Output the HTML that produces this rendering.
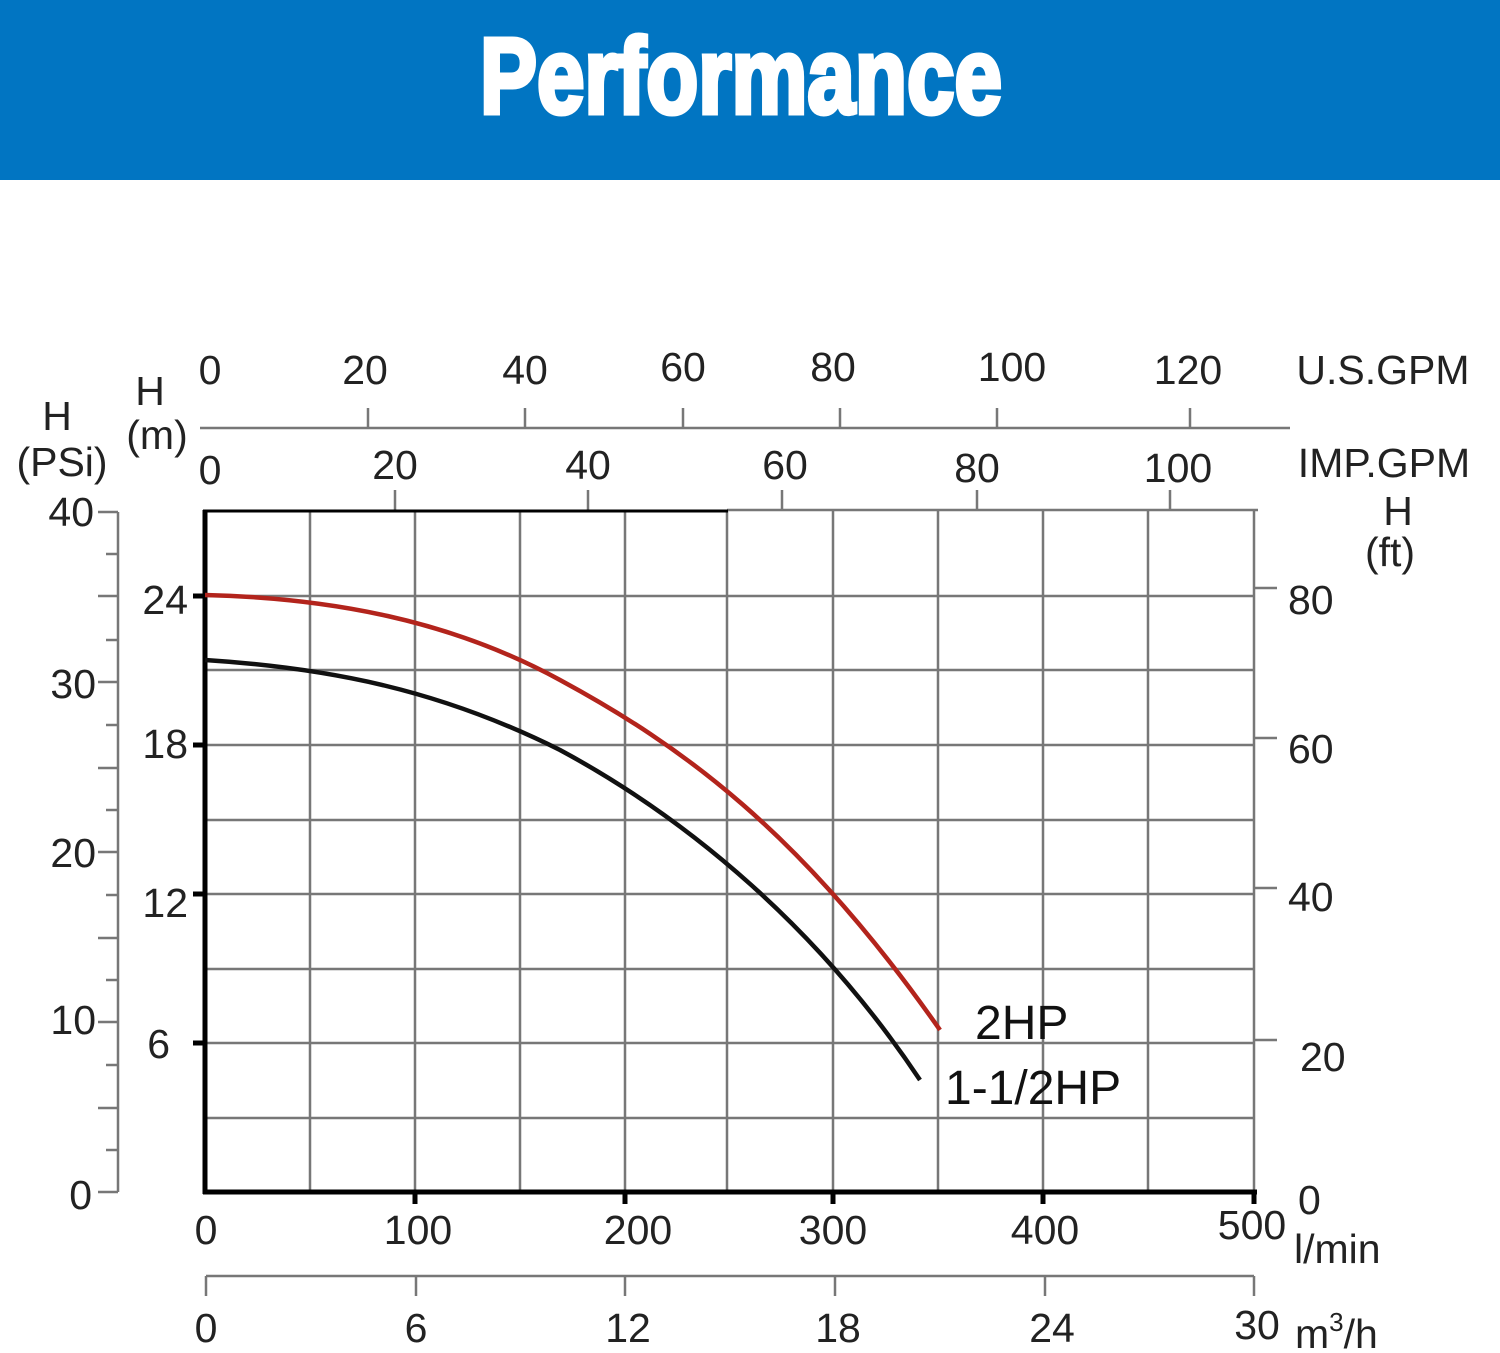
<!DOCTYPE html>
<html><head><meta charset="utf-8"><style>
html,body{margin:0;padding:0;background:#fff;}
svg{display:block;}
text{font-family:"Liberation Sans",sans-serif;fill:#222;}
</style></head><body>
<svg width="1500" height="1353" viewBox="0 0 1500 1353" xmlns="http://www.w3.org/2000/svg">
<rect x="0" y="0" width="1500" height="180" fill="#0175c2"/>
<text x="741" y="113" text-anchor="middle" font-size="108" font-weight="bold" style="font-family:'Liberation Sans Narrow','Liberation Sans',sans-serif;fill:#fff;stroke:#fff;stroke-width:5" textLength="522" lengthAdjust="spacingAndGlyphs">Performance</text>

<g stroke="#777" stroke-width="2.5" fill="none">
<line x1="310" y1="510" x2="310" y2="1192"/><line x1="415" y1="510" x2="415" y2="1192"/><line x1="520" y1="510" x2="520" y2="1192"/><line x1="625" y1="510" x2="625" y2="1192"/><line x1="727" y1="510" x2="727" y2="1192"/><line x1="833" y1="510" x2="833" y2="1192"/><line x1="938" y1="510" x2="938" y2="1192"/><line x1="1043" y1="510" x2="1043" y2="1192"/><line x1="1148" y1="510" x2="1148" y2="1192"/><line x1="1254" y1="510" x2="1254" y2="1192"/>
<line x1="205" y1="596" x2="1254" y2="596"/><line x1="205" y1="670" x2="1254" y2="670"/><line x1="205" y1="745" x2="1254" y2="745"/><line x1="205" y1="820" x2="1254" y2="820"/><line x1="205" y1="894" x2="1254" y2="894"/><line x1="205" y1="969" x2="1254" y2="969"/><line x1="205" y1="1043" x2="1254" y2="1043"/><line x1="205" y1="1118" x2="1254" y2="1118"/>
<line x1="727" y1="510" x2="1258" y2="510"/>
<line x1="1254" y1="588" x2="1277" y2="588"/><line x1="1254" y1="738" x2="1277" y2="738"/><line x1="1254" y1="888" x2="1277" y2="888"/><line x1="1254" y1="1040" x2="1277" y2="1040"/>
<line x1="200" y1="428" x2="1290" y2="428"/>
<line x1="368" y1="408" x2="368" y2="428"/><line x1="525" y1="408" x2="525" y2="428"/><line x1="683" y1="408" x2="683" y2="428"/><line x1="840" y1="408" x2="840" y2="428"/><line x1="997" y1="408" x2="997" y2="428"/><line x1="1190" y1="408" x2="1190" y2="428"/>
<line x1="395" y1="490" x2="395" y2="510"/><line x1="588" y1="490" x2="588" y2="510"/><line x1="782" y1="490" x2="782" y2="510"/><line x1="977" y1="490" x2="977" y2="510"/><line x1="1170" y1="490" x2="1170" y2="510"/>
<line x1="118" y1="512" x2="118" y2="1192"/>
<line x1="98" y1="512" x2="118" y2="512"/><line x1="106" y1="554" x2="118" y2="554"/><line x1="98" y1="596" x2="118" y2="596"/><line x1="106" y1="640" x2="118" y2="640"/>
<line x1="98" y1="682" x2="118" y2="682"/><line x1="106" y1="725" x2="118" y2="725"/><line x1="98" y1="768" x2="118" y2="768"/><line x1="106" y1="810" x2="118" y2="810"/>
<line x1="98" y1="852" x2="118" y2="852"/><line x1="106" y1="895" x2="118" y2="895"/><line x1="98" y1="938" x2="118" y2="938"/><line x1="106" y1="980" x2="118" y2="980"/>
<line x1="98" y1="1022" x2="118" y2="1022"/><line x1="106" y1="1065" x2="118" y2="1065"/><line x1="98" y1="1108" x2="118" y2="1108"/><line x1="106" y1="1150" x2="118" y2="1150"/>
<line x1="98" y1="1192" x2="118" y2="1192"/>
<line x1="206" y1="1276" x2="1254" y2="1276"/>
<line x1="206" y1="1276" x2="206" y2="1296"/><line x1="416" y1="1276" x2="416" y2="1296"/><line x1="625" y1="1276" x2="625" y2="1296"/><line x1="835" y1="1276" x2="835" y2="1296"/><line x1="1045" y1="1276" x2="1045" y2="1296"/><line x1="1254" y1="1276" x2="1254" y2="1296"/>
</g>
<g stroke="#000" stroke-width="5" fill="none">
<line x1="205" y1="510" x2="205" y2="1194"/>
<line x1="203" y1="1192" x2="1257" y2="1192"/>
<line x1="203" y1="511" x2="728" y2="511" stroke-width="3"/>
<line x1="193" y1="596" x2="205" y2="596"/><line x1="193" y1="745" x2="205" y2="745"/><line x1="193" y1="894" x2="205" y2="894"/><line x1="193" y1="1043" x2="205" y2="1043"/>
<line x1="415" y1="1192" x2="415" y2="1204"/><line x1="625" y1="1192" x2="625" y2="1204"/><line x1="833" y1="1192" x2="833" y2="1204"/><line x1="1043" y1="1192" x2="1043" y2="1204"/><line x1="1254" y1="1192" x2="1254" y2="1204"/>
</g>
<path d="M205,595 C330,598 450,620 560,680 C680,745 800,830 940,1030" stroke="#b3241c" stroke-width="4.5" fill="none"/>
<path d="M205,660 C330,668 440,690 560,750 C690,820 820,930 920,1080" stroke="#111" stroke-width="4.5" fill="none"/>

<g font-size="41">
<text x="210" y="384" text-anchor="middle">0</text><text x="365" y="384" text-anchor="middle">20</text><text x="525" y="384" text-anchor="middle">40</text><text x="683" y="381" text-anchor="middle">60</text><text x="833" y="381" text-anchor="middle">80</text><text x="1012" y="381" text-anchor="middle">100</text><text x="1188" y="384" text-anchor="middle">120</text>
<text x="1383" y="384" text-anchor="middle">U.S.GPM</text>
<text x="210" y="484" text-anchor="middle">0</text><text x="395" y="479" text-anchor="middle">20</text><text x="588" y="479" text-anchor="middle">40</text><text x="785" y="479" text-anchor="middle">60</text><text x="977" y="482" text-anchor="middle">80</text><text x="1178" y="482" text-anchor="middle">100</text>
<text x="1384" y="477" text-anchor="middle">IMP.GPM</text>
<text x="1398" y="525" text-anchor="middle">H</text><text x="1390" y="566" text-anchor="middle">(ft)</text>
<text x="150" y="405" text-anchor="middle">H</text><text x="157" y="449" text-anchor="middle">(m)</text>
<text x="57" y="430" text-anchor="middle">H</text><text x="62" y="476" text-anchor="middle">(PSi)</text>
<text x="94" y="526" text-anchor="end">40</text><text x="96" y="698" text-anchor="end">30</text><text x="96" y="867" text-anchor="end">20</text><text x="96" y="1034" text-anchor="end">10</text><text x="92" y="1209" text-anchor="end">0</text>
<text x="188" y="614" text-anchor="end">24</text><text x="188" y="758" text-anchor="end">18</text><text x="188" y="917" text-anchor="end">12</text><text x="170" y="1058" text-anchor="end">6</text>
<text x="1288" y="614">80</text><text x="1288" y="763">60</text><text x="1288" y="911">40</text><text x="1300" y="1071">20</text><text x="1298" y="1214">0</text>
<text x="206" y="1244" text-anchor="middle">0</text><text x="418" y="1244" text-anchor="middle">100</text><text x="638" y="1244" text-anchor="middle">200</text><text x="833" y="1244" text-anchor="middle">300</text><text x="1045" y="1244" text-anchor="middle">400</text><text x="1252" y="1239" text-anchor="middle">500</text>
<text x="1294" y="1263">l/min</text>
<text x="206" y="1342" text-anchor="middle">0</text><text x="416" y="1342" text-anchor="middle">6</text><text x="628" y="1342" text-anchor="middle">12</text><text x="838" y="1342" text-anchor="middle">18</text><text x="1052" y="1342" text-anchor="middle">24</text><text x="1257" y="1339" text-anchor="middle">30</text>
<text x="1295" y="1348">m<tspan font-size="26" dy="-17">3</tspan><tspan dy="17">/h</tspan></text>
</g>
<text x="975" y="1039" style="fill:#111" font-size="48">2HP</text>
<text x="945" y="1104" style="fill:#111" font-size="48">1-1/2HP</text>
</svg>
</body></html>
